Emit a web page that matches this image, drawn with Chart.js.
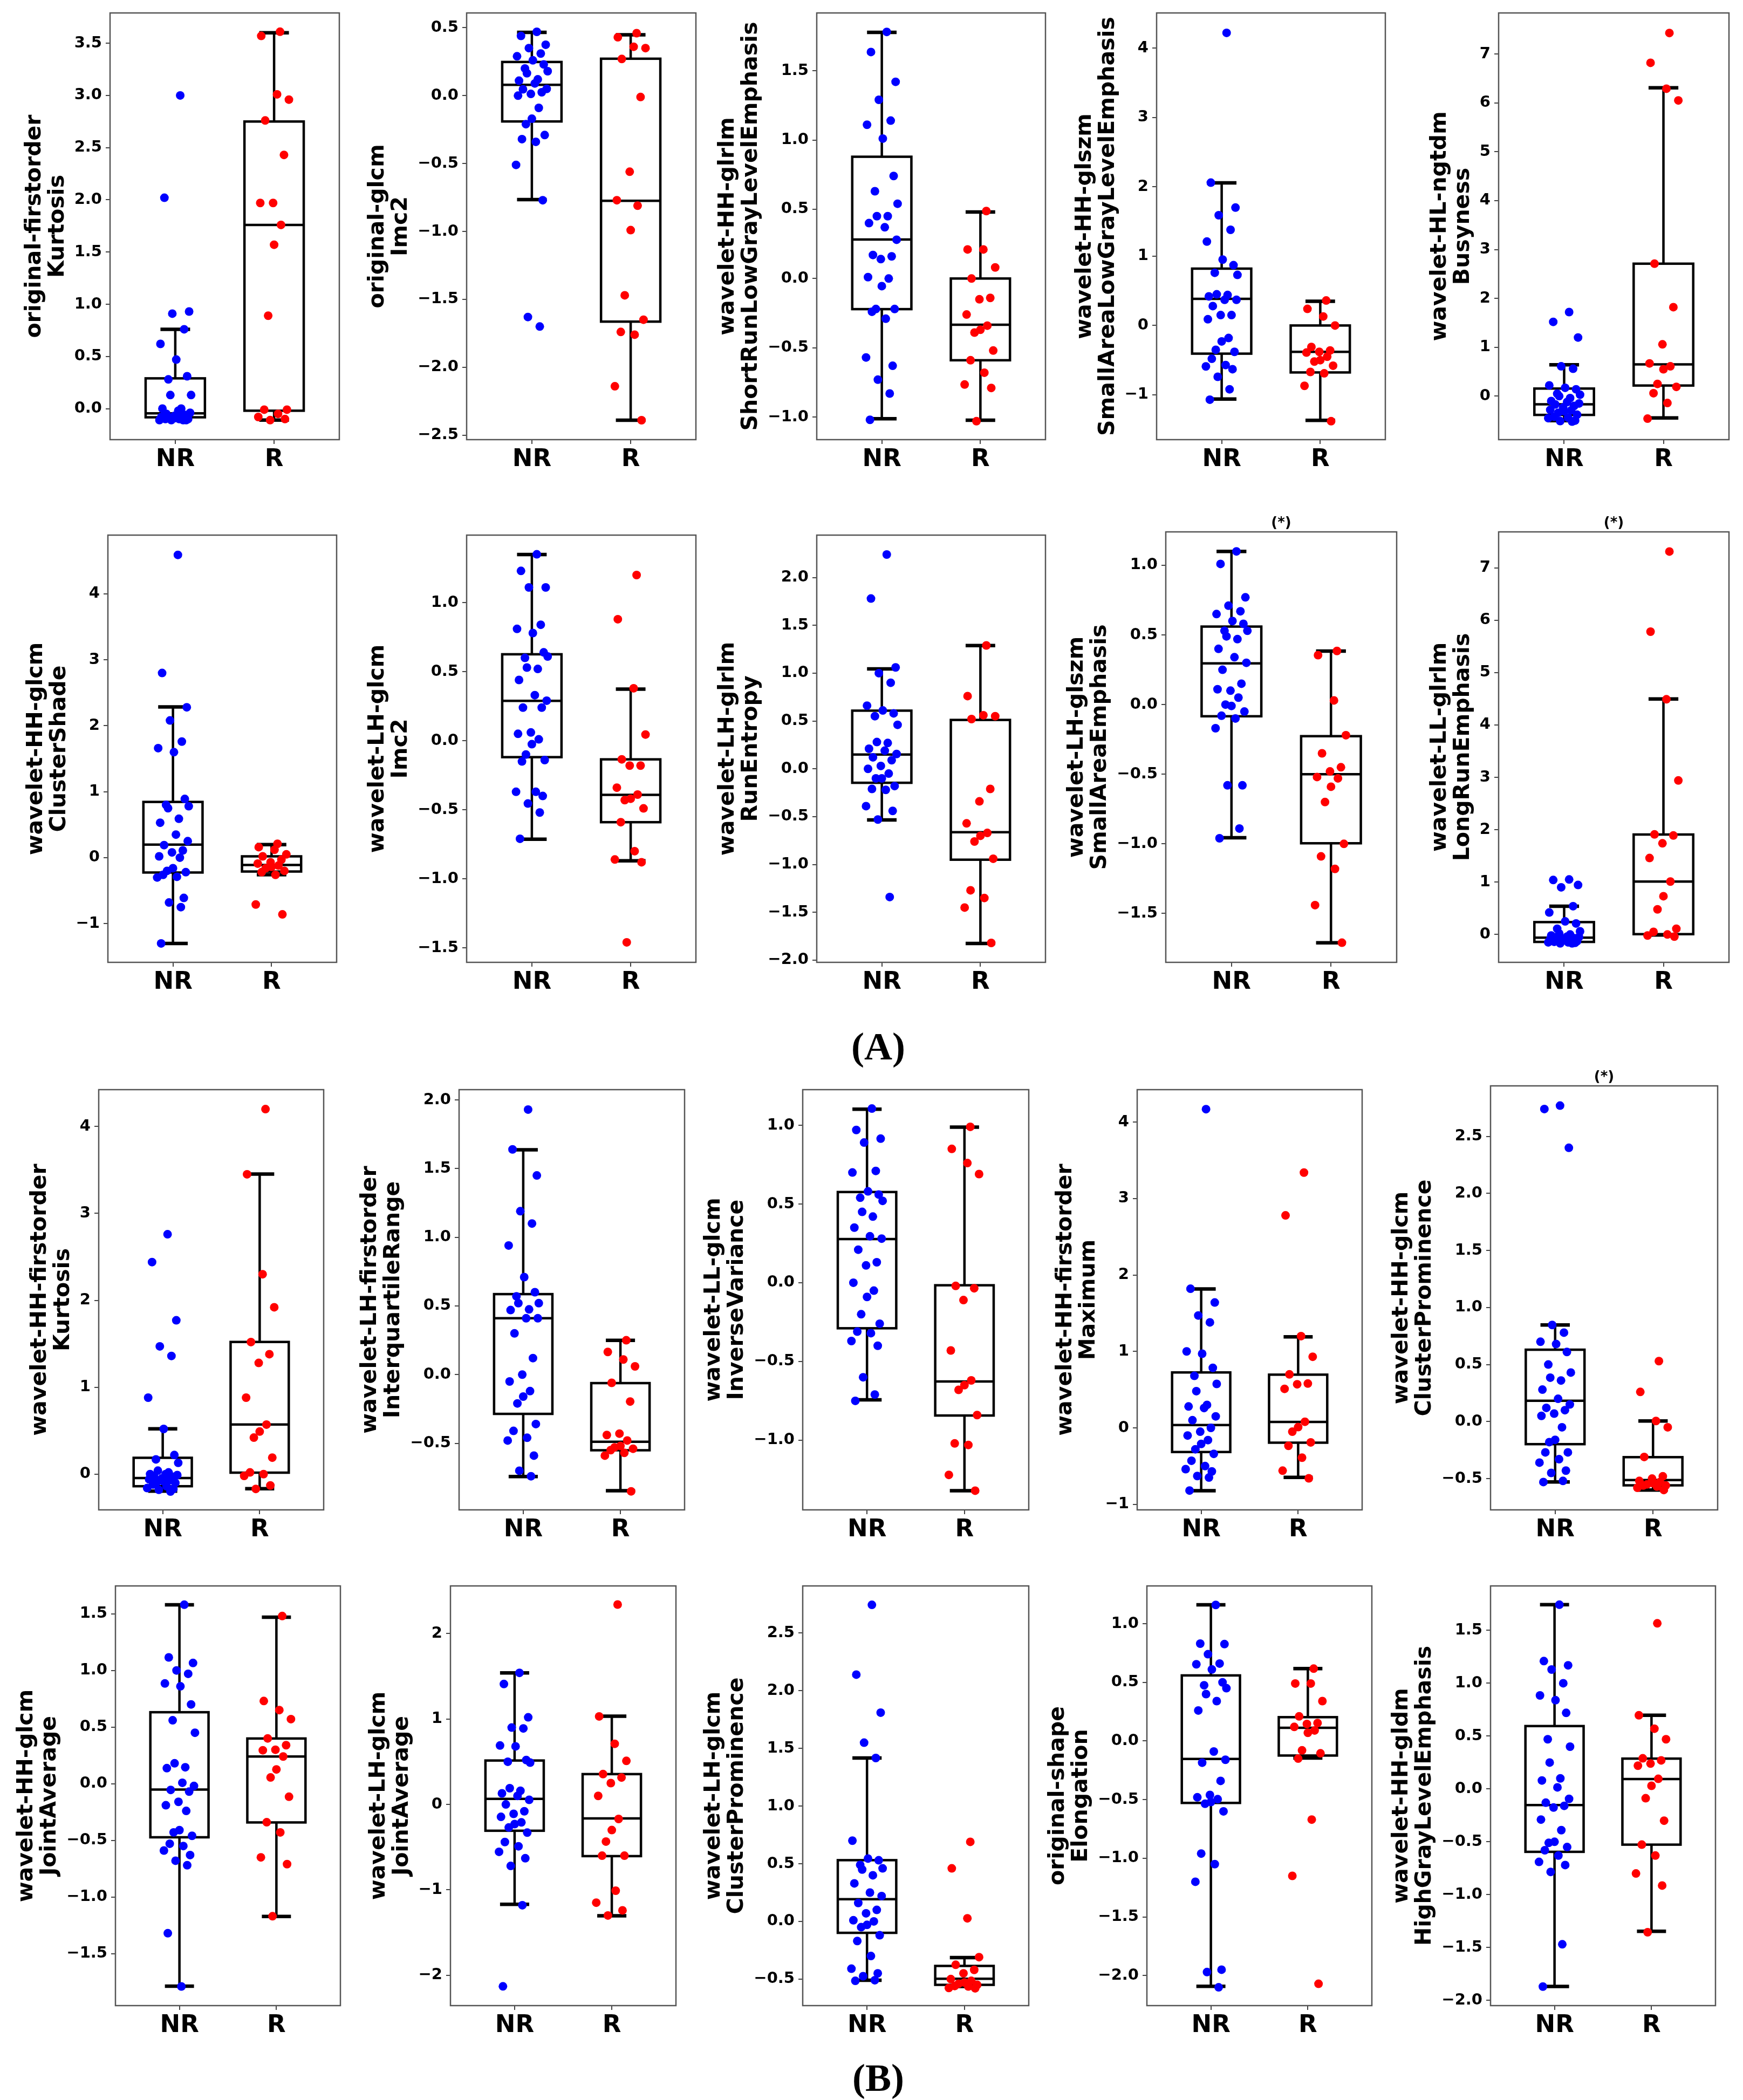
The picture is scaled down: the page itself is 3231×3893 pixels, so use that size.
<!DOCTYPE html>
<html>
<head>
<meta charset="utf-8">
<script src="https://cdn.jsdelivr.net/npm/chart.js@4.4.1/dist/chart.umd.min.js"></script>
<style>
  body { margin: 0; background: #fff; }
  #fig { position: relative; width: 3231px; height: 3893px; background: #fff; overflow: hidden; }
  #fig canvas { position: absolute; }
  .tag { position: absolute; font-family: "Liberation Serif", "DejaVu Serif", serif; font-weight: bold;
         font-size: 72px; line-height: 1; transform: translate(-50%, -50%); }
</style>
</head>
<body>
<div id="fig"></div>
<script>
// groups on the x axis
const groups = ['NR', 'R'];

// y axis titles, one per panel (two lines each)
const titles = [
  ['original-firstorder', 'Kurtosis'], ['original-glcm', 'Imc2'],
  ['wavelet-HH-glrlm', 'ShortRunLowGrayLevelEmphasis'], ['wavelet-HH-glszm', 'SmallAreaLowGrayLevelEmphasis'],
  ['wavelet-HL-ngtdm', 'Busyness'],
  ['wavelet-HH-glcm', 'ClusterShade'], ['wavelet-LH-glcm', 'Imc2'], ['wavelet-LH-glrlm', 'RunEntropy'],
  ['wavelet-LH-glszm', 'SmallAreaEmphasis'], ['wavelet-LL-glrlm', 'LongRunEmphasis'],
  ['wavelet-HH-firstorder', 'Kurtosis'], ['wavelet-LH-firstorder', 'InterquartileRange'],
  ['wavelet-LL-glcm', 'InverseVariance'], ['wavelet-HH-firstorder', 'Maximum'],
  ['wavelet-HH-glcm', 'ClusterProminence'],
  ['wavelet-HH-glcm', 'JointAverage'], ['wavelet-LH-glcm', 'JointAverage'],
  ['wavelet-LH-glcm', 'ClusterProminence'], ['original-shape', 'Elongation'],
  ['wavelet-HH-gldm', 'HighGrayLevelEmphasis']
];

// panels marked (*) (1-based)
const starred = [9, 10, 15];

// y axis limits
const yRanges = [
  [-0.297, 3.79], [-2.533, 0.609], [-1.163, 1.917], [-1.646, 4.507], [-0.89, 7.84],
  [-1.587, 4.89], [-1.605, 1.489], [-2.023, 2.443], [-1.851, 1.24], [-0.532, 7.685],
  [-0.411, 4.424], [-0.985, 2.075], [-1.442, 1.226], [-1.073, 4.425], [-0.774, 2.943],
  [-1.959, 1.746], [-2.355, 2.558], [-0.73, 2.909], [-2.256, 1.322], [-2.05, 1.921]
];

// y tick values
const yTicks = [
  [0, 0.5, 1, 1.5, 2, 2.5, 3, 3.5], [-2.5, -2, -1.5, -1, -0.5, 0, 0.5], [-1, -0.5, 0, 0.5, 1, 1.5],
  [-1, 0, 1, 2, 3, 4], [0, 1, 2, 3, 4, 5, 6, 7],
  [-1, 0, 1, 2, 3, 4], [-1.5, -1, -0.5, 0, 0.5, 1], [-2, -1.5, -1, -0.5, 0, 0.5, 1, 1.5, 2],
  [-1.5, -1, -0.5, 0, 0.5, 1], [0, 1, 2, 3, 4, 5, 6, 7],
  [0, 1, 2, 3, 4], [-0.5, 0, 0.5, 1, 1.5, 2], [-1, -0.5, 0, 0.5, 1], [-1, 0, 1, 2, 3, 4],
  [-0.5, 0, 0.5, 1, 1.5, 2, 2.5],
  [-1.5, -1, -0.5, 0, 0.5, 1, 1.5], [-2, -1, 0, 1, 2], [-0.5, 0, 0.5, 1, 1.5, 2, 2.5],
  [-2, -1.5, -1, -0.5, 0, 0.5, 1], [-2, -1.5, -1, -0.5, 0, 0.5, 1, 1.5]
];

// box statistics per group: [lower whisker, q1, median, q3, upper whisker]
const boxNR = [
  [-0.11, -0.083, -0.045, 0.29, 0.76], [-0.765, -0.19, 0.08, 0.248, 0.466], [-1.012, -0.221, 0.282, 0.879, 1.777],
  [-1.061, -0.406, 0.384, 0.82, 2.057], [-0.50, -0.384, -0.167, 0.155, 0.64],
  [-1.30, -0.225, 0.197, 0.845, 2.286], [-0.713, -0.119, 0.289, 0.626, 1.348], [-0.534, -0.146, 0.149, 0.608, 1.045],
  [-0.956, -0.084, 0.296, 0.56, 1.10], [-0.16, -0.142, -0.06, 0.236, 0.54],
  [-0.195, -0.139, -0.045, 0.188, 0.522], [-0.742, -0.286, 0.41, 0.586, 1.637], [-0.743, -0.289, 0.277, 0.576, 1.102],
  [-0.822, -0.316, 0.036, 0.725, 1.818], [-0.529, -0.198, 0.182, 0.63, 0.847],
  [-1.787, -0.473, -0.052, 0.631, 1.579], [-1.17, -0.308, 0.065, 0.514, 1.54], [-0.51, -0.099, 0.193, 0.531, 1.417],
  [-2.092, -0.528, -0.153, 0.559, 1.161], [-1.869, -0.595, -0.152, 0.595, 1.743]
];
const boxR = [
  [-0.11, -0.02, 1.76, 2.75, 3.60], [-2.39, -1.664, -0.774, 0.272, 0.448], [-1.023, -0.59, -0.334, 0.0, 0.48],
  [-1.367, -0.677, -0.38, 0.0, 0.35], [-0.446, 0.217, 0.65, 2.71, 6.31],
  [-0.258, -0.21, -0.11, 0.02, 0.197], [-0.87, -0.59, -0.392, -0.135, 0.374], [-1.825, -0.95, -0.663, 0.511, 1.288],
  [-1.711, -0.996, -0.50, -0.227, 0.384], [-0.01, 0.006, 1.01, 1.908, 4.495],
  [-0.167, 0.017, 0.571, 1.521, 3.453], [-0.846, -0.551, -0.489, -0.062, 0.249], [-1.32, -0.843, -0.627, -0.016, 0.988],
  [-0.648, -0.194, 0.077, 0.696, 1.19], [-0.60, -0.559, -0.513, -0.312, 0.005],
  [-1.172, -0.342, 0.24, 0.399, 1.47], [-1.304, -0.605, -0.163, 0.355, 1.033], [-0.564, -0.55, -0.497, -0.386, -0.314],
  [-0.145, -0.124, 0.113, 0.203, 0.617], [-1.347, -0.527, 0.094, 0.287, 0.697]
];

// individual observations
const p1NR = [3.0, 2.02, 0.93, 0.91, 0.76, 0.62, 0.47, 0.31, 0.28, 0.13, 0.13, 0.0, 0.0, -0.02, -0.04, -0.05, -0.06, -0.07, -0.08, -0.08, -0.09, -0.09, -0.10, -0.10, -0.10, -0.11, -0.11, -0.11, -0.11];
const p1R = [3.61, 3.57, 3.01, 2.96, 2.76, 2.43, 1.97, 1.97, 1.76, 1.57, 0.89, -0.01, -0.01, -0.05, -0.08, -0.10, -0.11];
const p2NR = [0.47, 0.44, 0.375, 0.35, 0.31, 0.29, 0.26, 0.23, 0.20, 0.18, 0.165, 0.12, 0.11, 0.09, 0.05, 0.047, 0.025, 0.013, 0.0, -0.09, -0.17, -0.21, -0.29, -0.32, -0.34, -0.51, -0.77, -1.63, -1.70];
const p2R = [0.46, 0.43, 0.36, 0.35, 0.27, -0.01, -0.56, -0.77, -0.81, -0.99, -1.47, -1.65, -1.74, -1.76, -2.14, -2.39];
const p3NR = [1.78, 1.635, 1.42, 1.29, 1.14, 1.11, 1.01, 0.74, 0.63, 0.54, 0.45, 0.45, 0.40, 0.37, 0.28, 0.17, 0.16, 0.14, 0.01, 0.0, -0.055, -0.22, -0.22, -0.24, -0.29, -0.57, -0.63, -0.73, -0.83, -1.02];
const p3R = [0.487, 0.21, 0.21, 0.08, 0.0, -0.14, -0.15, -0.26, -0.34, -0.37, -0.39, -0.52, -0.59, -0.68, -0.765, -0.79, -1.03];
const p4NR = [4.22, 2.06, 1.70, 1.59, 1.38, 1.21, 0.95, 0.87, 0.76, 0.73, 0.45, 0.44, 0.42, 0.37, 0.37, 0.28, 0.15, 0.15, 0.09, -0.18, -0.23, -0.35, -0.38, -0.48, -0.57, -0.59, -0.63, -0.74, -0.92, -1.07];
const p4R = [0.36, 0.24, 0.13, 0.0, -0.31, -0.36, -0.38, -0.39, -0.45, -0.50, -0.52, -0.58, -0.67, -0.69, -0.87, -1.38];
const p5NR = [1.72, 1.52, 1.20, 0.61, 0.56, 0.22, 0.17, 0.14, 0.05, 0.03, 0.0, -0.04, -0.10, -0.12, -0.15, -0.17, -0.20, -0.23, -0.28, -0.29, -0.31, -0.34, -0.38, -0.42, -0.44, -0.45, -0.50, -0.51, -0.52];
const p5R = [7.43, 6.82, 6.29, 6.05, 2.71, 1.82, 1.06, 0.67, 0.61, 0.55, 0.25, 0.19, 0.06, -0.14, -0.46];
const p6NR = [4.59, 2.80, 2.28, 2.08, 1.76, 1.66, 1.60, 0.89, 0.80, 0.78, 0.75, 0.59, 0.53, 0.35, 0.25, 0.19, 0.11, 0.08, 0.02, 0.0, -0.16, -0.20, -0.22, -0.26, -0.29, -0.30, -0.61, -0.68, -0.75, -1.30];
const p6R = [0.21, 0.16, 0.12, 0.05, 0.02, -0.03, -0.07, -0.09, -0.12, -0.14, -0.16, -0.20, -0.22, -0.26, -0.71, -0.86];
const p7NR = [1.35, 1.23, 1.11, 1.11, 0.84, 0.81, 0.78, 0.64, 0.60, 0.61, 0.53, 0.52, 0.44, 0.33, 0.29, 0.24, 0.24, 0.06, 0.05, 0.01, -0.025, -0.10, -0.14, -0.15, -0.37, -0.37, -0.40, -0.455, -0.52, -0.71];
const p7R = [1.20, 0.88, 0.38, 0.045, -0.135, -0.18, -0.18, -0.34, -0.39, -0.42, -0.43, -0.49, -0.59, -0.80, -0.86, -0.88, -1.46];
const p8NR = [2.24, 1.78, 1.06, 1.0, 0.90, 0.66, 0.61, 0.58, 0.55, 0.46, 0.28, 0.27, 0.21, 0.19, 0.155, 0.12, 0.09, 0.03, 0.0, -0.05, -0.10, -0.10, -0.18, -0.21, -0.22, -0.39, -0.44, -0.53, -1.34];
const p8R = [1.29, 0.76, 0.56, 0.55, 0.52, -0.21, -0.34, -0.57, -0.67, -0.70, -0.76, -0.94, -1.27, -1.35, -1.45, -1.82];
const p9NR = [1.10, 1.01, 0.77, 0.71, 0.67, 0.65, 0.60, 0.58, 0.53, 0.53, 0.49, 0.47, 0.40, 0.34, 0.30, 0.25, 0.15, 0.10, 0.11, 0.05, -0.01, 0.0, -0.05, -0.08, -0.10, -0.17, -0.58, -0.58, -0.89, -0.96];
const p9R = [0.385, 0.355, 0.03, -0.22, -0.35, -0.45, -0.48, -0.52, -0.53, -0.59, -0.70, -1.0, -1.09, -1.18, -1.44, -1.71];
const p10NR = [1.05, 1.04, 0.945, 0.90, 0.54, 0.42, 0.25, 0.21, 0.11, 0.06, 0.02, 0.0, -0.02, -0.04, -0.05, -0.06, -0.07, -0.08, -0.09, -0.10, -0.11, -0.12, -0.13, -0.14, -0.15, -0.15, -0.16, -0.17, -0.17];
const p10R = [7.31, 5.78, 4.49, 2.94, 1.91, 1.89, 1.74, 1.46, 1.01, 0.73, 0.48, 0.11, 0.05, 0.0, -0.02, -0.04];
const p11NR = [2.76, 2.44, 1.77, 1.47, 1.36, 0.88, 0.52, 0.22, 0.17, 0.13, 0.04, 0.02, 0.0, 0.0, -0.01, -0.02, -0.03, -0.05, -0.06, -0.07, -0.08, -0.09, -0.10, -0.12, -0.14, -0.16, -0.17, -0.18, -0.20];
const p11R = [4.20, 3.45, 2.30, 1.92, 1.52, 1.38, 1.28, 0.88, 0.57, 0.49, 0.42, 0.19, 0.02, 0.0, -0.02, -0.13, -0.17];
const p12NR = [1.93, 1.64, 1.45, 1.19, 1.10, 0.94, 0.71, 0.60, 0.57, 0.52, 0.52, 0.475, 0.47, 0.41, 0.41, 0.30, 0.12, 0.0, -0.05, -0.12, -0.16, -0.21, -0.36, -0.41, -0.46, -0.48, -0.59, -0.70, -0.74];
const p12R = [0.25, 0.165, 0.11, 0.06, -0.06, -0.196, -0.43, -0.44, -0.48, -0.52, -0.53, -0.54, -0.55, -0.57, -0.59, -0.85];
const p13NR = [1.106, 0.97, 0.915, 0.89, 0.71, 0.70, 0.58, 0.56, 0.54, 0.52, 0.45, 0.42, 0.35, 0.295, 0.28, 0.21, 0.13, 0.11, 0.0, -0.05, -0.09, -0.20, -0.26, -0.31, -0.32, -0.37, -0.40, -0.60, -0.71, -0.75];
const p13R = [0.99, 0.85, 0.76, 0.69, -0.02, -0.035, -0.11, -0.43, -0.62, -0.65, -0.68, -0.84, -1.02, -1.03, -1.22, -1.32];
const p14NR = [4.17, 1.82, 1.64, 1.47, 1.38, 1.0, 0.97, 0.785, 0.68, 0.575, 0.48, 0.30, 0.28, 0.26, 0.15, 0.10, 0.0, -0.05, -0.10, -0.16, -0.21, -0.28, -0.34, -0.43, -0.50, -0.54, -0.57, -0.63, -0.65, -0.82];
const p14R = [3.34, 2.78, 1.20, 0.93, 0.70, 0.58, 0.57, 0.51, 0.08, 0.01, -0.05, -0.19, -0.235, -0.39, -0.56, -0.66];
const p15NR = [2.77, 2.74, 2.40, 0.847, 0.78, 0.70, 0.68, 0.61, 0.50, 0.43, 0.385, 0.36, 0.28, 0.20, 0.15, 0.12, 0.10, 0.07, 0.05, -0.05, -0.16, -0.18, -0.27, -0.27, -0.33, -0.36, -0.43, -0.45, -0.52, -0.53];
const p15R = [0.53, 0.26, 0.005, -0.05, -0.31, -0.48, -0.50, -0.52, -0.53, -0.54, -0.55, -0.56, -0.56, -0.57, -0.58, -0.60];
const p16NR = [1.58, 1.115, 1.066, 1.0, 0.97, 0.885, 0.86, 0.70, 0.56, 0.45, 0.18, 0.145, 0.137, 0.008, -0.02, -0.055, -0.07, -0.16, -0.19, -0.24, -0.41, -0.43, -0.46, -0.53, -0.55, -0.59, -0.63, -0.68, -0.72, -1.32, -1.79];
const p16R = [1.48, 0.73, 0.65, 0.57, 0.40, 0.34, 0.30, 0.295, 0.24, 0.126, 0.055, -0.115, -0.34, -0.43, -0.65, -0.71, -1.17];
const p17NR = [1.54, 1.41, 1.02, 0.90, 0.89, 0.69, 0.68, 0.52, 0.50, 0.49, 0.19, 0.16, 0.13, 0.10, 0.054, 0.0, -0.08, -0.11, -0.145, -0.21, -0.23, -0.27, -0.33, -0.44, -0.49, -0.555, -0.63, -0.72, -1.18, -2.13];
const p17R = [2.34, 1.03, 0.71, 0.51, 0.355, 0.315, 0.25, 0.10, -0.17, -0.30, -0.435, -0.60, -0.60, -1.01, -1.15, -1.24, -1.30];
const p18NR = [2.745, 2.14, 1.81, 1.55, 1.417, 0.70, 0.545, 0.53, 0.49, 0.46, 0.45, 0.40, 0.33, 0.25, 0.22, 0.16, 0.10, 0.07, 0.01, 0.0, -0.03, -0.05, -0.12, -0.17, -0.30, -0.41, -0.45, -0.475, -0.51, -0.515];
const p18R = [0.69, 0.46, 0.027, -0.31, -0.376, -0.42, -0.45, -0.50, -0.515, -0.53, -0.54, -0.55, -0.56, -0.564, -0.577, -0.58];
const p19NR = [1.16, 0.83, 0.826, 0.74, 0.66, 0.654, 0.61, 0.50, 0.475, 0.45, 0.40, 0.34, 0.26, -0.09, -0.16, -0.185, -0.34, -0.46, -0.48, -0.496, -0.52, -0.535, -0.60, -0.96, -1.05, -1.20, -1.95, -1.97, -2.10];
const p19R = [0.617, 0.49, 0.49, 0.34, 0.21, 0.153, 0.145, 0.12, 0.09, 0.07, -0.08, -0.105, -0.15, -0.67, -1.15, -2.07];
const p20NR = [1.743, 1.21, 1.17, 1.13, 1.0, 0.885, 0.84, 0.72, 0.47, 0.40, 0.25, 0.10, 0.08, 0.015, -0.094, -0.13, -0.16, -0.176, -0.29, -0.39, -0.50, -0.51, -0.55, -0.58, -0.63, -0.69, -0.72, -0.785, -1.47, -1.87];
const p20R = [1.567, 0.697, 0.57, 0.47, 0.29, 0.27, 0.24, 0.22, 0.096, 0.03, -0.088, -0.30, -0.527, -0.63, -0.80, -0.914, -1.356];

const nrPoints = [p1NR, p2NR, p3NR, p4NR, p5NR, p6NR, p7NR, p8NR, p9NR, p10NR,
                  p11NR, p12NR, p13NR, p14NR, p15NR, p16NR, p17NR, p18NR, p19NR, p20NR];
const rPoints = [p1R, p2R, p3R, p4R, p5R, p6R, p7R, p8R, p9R, p10R,
                 p11R, p12R, p13R, p14R, p15R, p16R, p17R, p18R, p19R, p20R];

// horizontal strip jitter (typed, reused for every panel)
const jitter = [0.05, -0.11, 0.14, -0.03, 0.09, -0.15, 0.01, 0.12, -0.07, 0.16, -0.05, 0.06, -0.13, 0.03, 0.15, -0.09,
                0.10, -0.01, -0.14, 0.07, 0.00, -0.06, 0.13, -0.10, 0.04, -0.16, 0.11, -0.04, 0.08, -0.12, 0.02, -0.08];

// ---- layout (pixels): plot frame of each panel [left, top, right, bottom]
const frames = [
  [204, 24, 633, 815], [865, 24, 1294, 815], [1514, 24, 1942, 815], [2144, 24, 2572, 815], [2778, 24, 3209, 815],
  [200, 992, 628, 1784], [865, 992, 1294, 1784], [1514, 992, 1942, 1784], [2161, 986, 2593, 1784], [2778, 986, 3209, 1784],
  [183, 2020, 604, 2799], [851, 2020, 1273, 2799], [1488, 2020, 1911, 2799], [2108, 2020, 2529, 2799], [2763, 2013, 3188, 2799],
  [214, 2940, 635, 3718], [835, 2940, 1257, 3718], [1488, 2940, 1911, 3718], [2126, 2940, 2547, 3718], [2763, 2940, 3184, 3718]
];
const tags = [['(A)', 1628, 1940], ['(B)', 1628, 3852]];

const FONT = 'DejaVu Sans';
const TICK_SIZE = 29, TITLE_SIZE = 41, TITLE_LH = 43, GROUP_SIZE = 45;
const TOP_PAD = 40, RIGHT_PAD = 4, X_AXIS_H = 75;
const TICK_LEN = 8, TICK_PAD = 7, TITLE_GAP = 9;

Chart.defaults.font.family = FONT;
Chart.defaults.color = '#000';

const measure = document.createElement('canvas').getContext('2d');
measure.font = 'bold ' + TICK_SIZE + 'px "' + FONT + '"';

const fig = document.getElementById('fig');

function fmtTick(v, dec) {
  return v.toFixed(dec).replace('-', '\u2212');
}

function boxPlugin(stats, star) {
  return {
    id: 'boxes',
    beforeDatasetsDraw(chart) {
      const { ctx, chartArea: a, scales: { x, y } } = chart;
      ctx.save();
      // axes frame
      ctx.strokeStyle = '#555';
      ctx.lineWidth = 2.5;
      ctx.strokeRect(a.left, a.top, a.right - a.left, a.bottom - a.top);
      ctx.strokeStyle = '#000';
      ctx.lineCap = 'butt';
      stats.forEach((s, g) => {
        const [lo, q1, med, q3, hi] = s;
        const xl = x.getPixelForValue(g - 0.3), xr = x.getPixelForValue(g + 0.3);
        const xc = x.getPixelForValue(g);
        const cl = x.getPixelForValue(g - 0.15), cr = x.getPixelForValue(g + 0.15);
        ctx.lineWidth = 4.5;
        ctx.strokeRect(xl, y.getPixelForValue(q3), xr - xl, y.getPixelForValue(q1) - y.getPixelForValue(q3));
        ctx.beginPath();
        ctx.moveTo(xl, y.getPixelForValue(med)); ctx.lineTo(xr, y.getPixelForValue(med));
        ctx.moveTo(xc, y.getPixelForValue(q3)); ctx.lineTo(xc, y.getPixelForValue(hi));
        ctx.moveTo(xc, y.getPixelForValue(q1)); ctx.lineTo(xc, y.getPixelForValue(lo));
        ctx.stroke();
        ctx.lineWidth = 6.5;
        ctx.beginPath();
        ctx.moveTo(cl, y.getPixelForValue(hi)); ctx.lineTo(cr, y.getPixelForValue(hi));
        ctx.moveTo(cl, y.getPixelForValue(lo)); ctx.lineTo(cr, y.getPixelForValue(lo));
        ctx.stroke();
      });
      if (star) {
        ctx.fillStyle = '#000';
        ctx.font = 'bold 26px "' + FONT + '"';
        ctx.textAlign = 'center';
        ctx.textBaseline = 'middle';
        ctx.fillText('(*)', (a.left + a.right) / 2, a.top - 16);
      }
      ctx.restore();
    }
  };
}

frames.forEach((f, i) => {
  const [fl, ft, fr, fb] = f;
  const ticks = yTicks[i];
  const dec = ticks.some(v => !Number.isInteger(v)) ? 1 : 0;
  const labelW = Math.max(...ticks.map(v => measure.measureText(fmtTick(v, dec)).width));
  const axisW = Math.round(2 * TITLE_LH + TITLE_GAP + labelW + TICK_PAD + TICK_LEN);
  const width = axisW + (fr - fl) + RIGHT_PAD;
  const height = TOP_PAD + (fb - ft) + X_AXIS_H;

  const canvas = document.createElement('canvas');
  canvas.width = width;
  canvas.height = height;
  canvas.style.left = (fl - axisW) + 'px';
  canvas.style.top = (ft - TOP_PAD) + 'px';
  canvas.style.width = width + 'px';
  canvas.style.height = height + 'px';
  fig.appendChild(canvas);

  const grid = { drawOnChartArea: false, drawTicks: true, tickLength: TICK_LEN, color: '#444', lineWidth: 2 };

  new Chart(canvas, {
    type: 'scatter',
    data: {
      datasets: [
        {
          data: nrPoints[i].map((v, k) => ({ x: 0 + jitter[k % jitter.length], y: v })),
          backgroundColor: '#0000ff', borderWidth: 0, pointRadius: 8
        },
        {
          data: rPoints[i].map((v, k) => ({ x: 1 + jitter[(k + 11) % jitter.length], y: v })),
          backgroundColor: '#ff0000', borderWidth: 0, pointRadius: 8
        }
      ]
    },
    options: {
      responsive: false,
      animation: false,
      devicePixelRatio: 1,
      layout: { padding: { top: TOP_PAD, right: RIGHT_PAD, left: 0, bottom: 0 } },
      plugins: { legend: { display: false }, tooltip: { enabled: false } },
      scales: {
        x: {
          type: 'linear', min: -0.66, max: 1.66,
          afterBuildTicks: s => { s.ticks = [{ value: 0 }, { value: 1 }]; },
          afterFit: s => { s.height = X_AXIS_H; },
          ticks: {
            callback: v => groups[v], autoSkip: false, maxRotation: 0, padding: 2,
            font: { size: GROUP_SIZE, weight: 'bold' }, color: '#000'
          },
          grid: grid,
          border: { display: false }
        },
        y: {
          type: 'linear', min: yRanges[i][0], max: yRanges[i][1],
          afterBuildTicks: s => { s.ticks = ticks.map(v => ({ value: v })); },
          afterFit: s => { s.width = axisW; },
          ticks: {
            callback: v => fmtTick(v, dec), autoSkip: false, padding: TICK_PAD,
            font: { size: TICK_SIZE, weight: 'bold' }, color: '#000'
          },
          grid: grid,
          border: { display: false },
          title: {
            display: true, text: titles[i], color: '#000',
            font: { size: TITLE_SIZE, weight: 'bold', lineHeight: TITLE_LH / TITLE_SIZE },
            padding: { top: 0, bottom: 0 }
          }
        }
      }
    },
    plugins: [boxPlugin([boxNR[i], boxR[i]], starred.includes(i + 1))]
  });
});

tags.forEach(([txt, x, y]) => {
  const d = document.createElement('div');
  d.className = 'tag';
  d.textContent = txt;
  d.style.left = x + 'px';
  d.style.top = y + 'px';
  fig.appendChild(d);
});
</script>
</body>
</html>
